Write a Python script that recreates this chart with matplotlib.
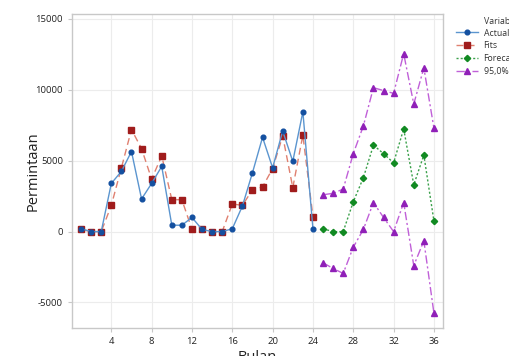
import matplotlib
matplotlib.use("Agg")
import matplotlib.pyplot as plt

plt.rcParams["font.family"] = ["Open Sans", "DejaVu Sans"]
plt.rcParams["axes.unicode_minus"] = False

# monthly demand (Permintaan), months 1-24
months_hist = list(range(1, 25))
actual = [200, 0, 0, 3400, 4250, 5650, 2300, 3400, 4600, 450, 450, 1000,
          150, 0, 0, 200, 1800, 4150, 6650, 4500, 7100, 4950, 8450, 200]
fits = [150, 0, 0, 1850, 4500, 7200, 5850, 3700, 5350, 2250, 2250, 150,
        150, 0, 0, 1950, 1850, 2950, 3150, 4450, 6750, 3100, 6800, 1050]

# forecast horizon, months 25-36
months_fc = list(range(25, 37))
forecast = [200, 0, 0, 2100, 3800, 6100, 5500, 4850, 7250, 3300, 5400, 750]
upper_pi = [2600, 2700, 3000, 5500, 7450, 10150, 9950, 9750, 12550, 9000, 11550, 7300]
lower_pi = [-2200, -2600, -2950, -1100, 150, 2050, 1000, 0, 2050, -2400, -650, -5750]

x_ticks = [4, 8, 12, 16, 20, 24, 28, 32, 36]
y_ticks = [-5000, 0, 5000, 10000, 15000]

fig = plt.figure(figsize=(5.09, 3.56), dpi=100)
ax = fig.add_axes([72 / 509, 28 / 356, 371 / 509, 314 / 356])

pi_style = (0, (6, 2, 1.5, 2))
ax.plot(months_hist, actual, color="#5b95cf", linewidth=1.0, linestyle="-",
        marker="o", markersize=3.4, markerfacecolor="#1450a0",
        markeredgecolor="#1450a0", label="Actual", zorder=3)
ax.plot(months_hist, fits, color="#e08070", linewidth=1.0, linestyle=(0, (5, 3)),
        marker="s", markersize=3.8, markerfacecolor="#a01c1c",
        markeredgecolor="#a01c1c", label="Fits", zorder=2)
ax.plot(months_fc, forecast, color="#3aa04a", linewidth=1.0, linestyle=(0, (1.5, 1.5)),
        marker="D", markersize=3.2, markerfacecolor="#118a22",
        markeredgecolor="#118a22", label="Forecast", zorder=3)
ax.plot(months_fc, upper_pi, color="#c060d8", linewidth=1.0, linestyle=pi_style,
        marker="^", markersize=3.8, markerfacecolor="#9020b8",
        markeredgecolor="#9020b8", label="95,0% PI", zorder=3)
ax.plot(months_fc, lower_pi, color="#c060d8", linewidth=1.0, linestyle=pi_style,
        marker="^", markersize=3.8, markerfacecolor="#9020b8",
        markeredgecolor="#9020b8", zorder=3)

ax.set_xlim(0.1, 36.9)
ax.set_ylim(-6800, 15350)
ax.set_xticks(x_ticks)
ax.set_yticks(y_ticks)
ax.grid(True, color="#ececec", linewidth=0.8)
ax.set_axisbelow(True)
for side in ax.spines.values():
    side.set_color("#c8c8c8")
    side.set_linewidth(1.0)
ax.tick_params(labelsize=6.8, colors="#c8c8c8", labelcolor="#222222", length=3, width=0.8)

ax.set_ylabel("Permintaan", fontsize=10.5, color="#222222")
ax.yaxis.set_label_coords(-0.085, 0.5)
ax.set_xlabel("Bulan", fontsize=10.5, color="#222222", labelpad=3)

# legend sits at the right edge; the reference clips its text there
leg = fig.legend(loc="upper left", bbox_to_anchor=(452 / 509, 1 - 25 / 356),
                 fontsize=6.3, frameon=False, handlelength=2.6,
                 handletextpad=0.6, labelspacing=0.45, borderaxespad=0.0)
for text in leg.get_texts():
    text.set_color("#333333")
fig.text(484 / 509, 1 - 22 / 356, "Variable", fontsize=6.3, color="#333333",
         ha="left", va="center")

fig.savefig("out.png", dpi=100)
